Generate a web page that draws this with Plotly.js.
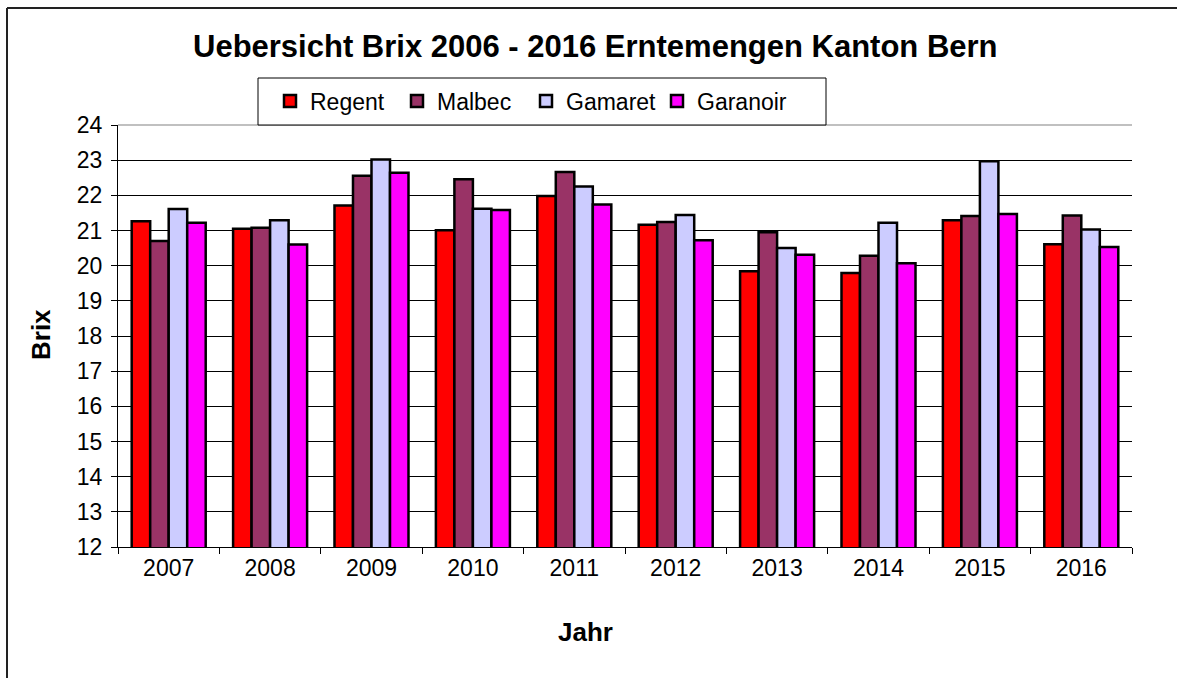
<!DOCTYPE html>
<html>
<head>
<meta charset="utf-8">
<script src="https://cdn.plot.ly/plotly-3.0.1.min.js"></script>
<style>html,body{margin:0;padding:0;background:#fff;}#chart{width:1177px;height:678px;overflow:hidden;}</style>
</head>
<body>
<div id="chart"></div>
<script>
const years = ["2007","2008","2009","2010","2011","2012","2013","2014","2015","2016"];
const regent   = [21.26, 21.05, 21.71, 21.01, 21.98, 21.16, 19.84, 19.79, 21.29, 20.61];
const malbec   = [20.70, 21.08, 22.56, 22.46, 22.66, 21.24, 20.95, 20.28, 21.41, 21.43];
const gamaret  = [21.61, 21.29, 23.02, 21.62, 22.25, 21.44, 20.50, 21.22, 22.97, 21.03];
const garanoir = [21.22, 20.60, 22.64, 21.58, 21.74, 20.72, 20.31, 20.07, 21.47, 20.53];
const seriesNames = ["Regent", "Malbec", "Gamaret", "Garanoir"];
const seriesColors = ["#FF0000", "#993366", "#CCCCFF", "#FF00FF"];
const seriesValues = [regent, malbec, gamaret, garanoir];
const yTicks = [12,13,14,15,16,17,18,19,20,21,22,23,24];
const legendWidths = [70, 72, 74, 100];

const traces = seriesValues.map((vals, i) => ({
  type: "bar",
  name: seriesNames[i],
  x: years,
  y: vals,
  legendwidth: legendWidths[i],
  marker: {color: seriesColors[i], line: {color: "#000", width: 2.5}}
}));

const L = 118, R = 45, T = 125, B = 131;
const W = 1177 - L - R, H = 678 - T - B;
const px = x => (x - L) / W;
const py = y => (678 - B - y) / H;
const FONT = "Liberation Sans, Arial, sans-serif";

const layout = {
  width: 1177, height: 678,
  margin: {l: L, r: R, t: T, b: B, pad: 0},
  paper_bgcolor: "#fff", plot_bgcolor: "#fff",
  font: {family: FONT, color: "#000", size: 23},
  barmode: "group", bargap: 0.27, bargroupgap: 0,
  showlegend: true,
  legend: {
    orientation: "h", x: px(258), y: py(101), xanchor: "left", yanchor: "middle",
    borderwidth: 0, bgcolor: "rgba(0,0,0,0)", indentation: 12,
    font: {size: 23, family: FONT},
    itemwidth: 30, traceorder: "normal"
  },
  xaxis: {
    type: "category", showgrid: false, showline: true, linecolor: "#000", linewidth: 1,
    ticks: "outside", tickson: "boundaries", ticklen: 6, tickcolor: "#000",
    tickfont: {size: 23}, fixedrange: true
  },
  yaxis: {
    range: [12, 24], tickvals: yTicks,
    showgrid: true, gridcolor: "#000", gridwidth: 1,
    showline: true, linecolor: "#000", linewidth: 1,
    ticks: "outside", ticklen: 6, tickcolor: "#000", zeroline: false,
    tickfont: {size: 23}, fixedrange: true, ticklabelstandoff: 4
  },
  shapes: [
    {type: "line", xref: "paper", yref: "paper", x0: 0, x1: 1, y0: 1, y1: 1,
     line: {color: "#c0c0c0", width: 2}, layer: "above"},
    {type: "rect", xref: "paper", yref: "paper", x0: px(258), x1: px(826), y0: py(78), y1: py(125),
     line: {color: "#000", width: 1}, fillcolor: "#fff", layer: "above"},
    {type: "line", xref: "paper", yref: "paper", x0: px(7), x1: px(7), y0: py(8), y1: py(690),
     line: {color: "#222", width: 2}, layer: "below"},
    {type: "line", xref: "paper", yref: "paper", x0: px(7), x1: px(1190), y0: py(8), y1: py(8),
     line: {color: "#222", width: 2}, layer: "below"}
  ],
  annotations: [
    {text: "<b>Uebersicht Brix 2006 - 2016 Erntemengen Kanton Bern</b>", xref: "paper", yref: "paper",
     x: px(595), y: py(47), xanchor: "center", yanchor: "middle", showarrow: false, font: {size: 31}},
    {text: "<b>Jahr</b>", xref: "paper", yref: "paper", x: px(585), y: py(632),
     xanchor: "center", yanchor: "middle", showarrow: false, font: {size: 26}},
    {text: "<b>Brix</b>", xref: "paper", yref: "paper", x: px(41), y: py(335),
     xanchor: "center", yanchor: "middle", showarrow: false, textangle: -90, font: {size: 26}}
  ]
};

Plotly.newPlot("chart", traces, layout, {displayModeBar: false, staticPlot: true});
</script>
</body>
</html>
